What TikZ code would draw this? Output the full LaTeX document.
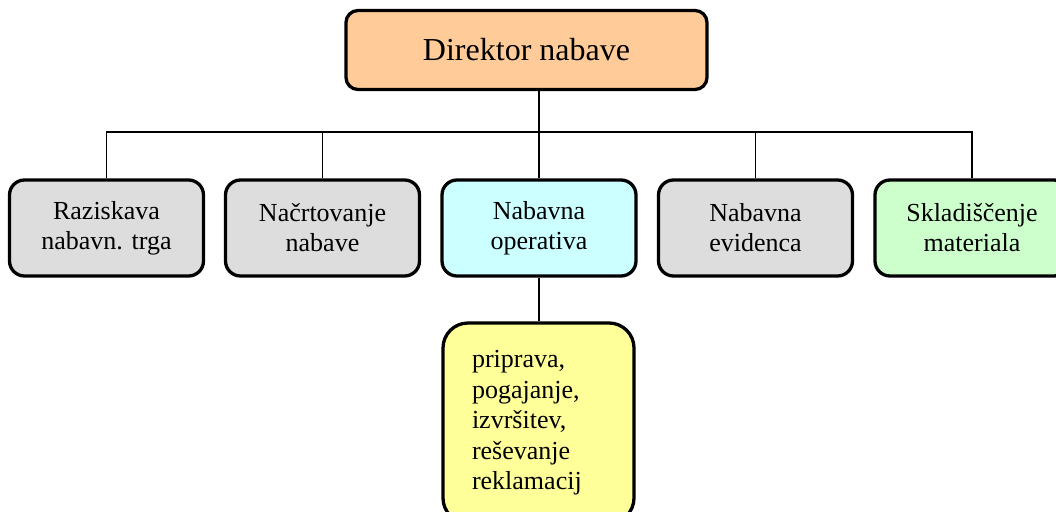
\documentclass[tikz,border=0pt]{standalone}
\usepackage{fontspec}
\setmainfont{Liberation Serif}
\definecolor{peach}{HTML}{FFCC99}
\definecolor{lightgray}{HTML}{DDDDDD}
\definecolor{lightcyan}{HTML}{CCFFFF}
\definecolor{lightgreen}{HTML}{CCFFCC}
\definecolor{lightyellow}{HTML}{FFFF99}
\tikzset{
  unitbox/.style={draw=black, line width=3.3pt, rounded corners=15pt,
    minimum width=194pt, minimum height=96pt, inner sep=0pt, align=center,
    font=\fontsize{26}{30}\selectfont},
  headbox/.style={unitbox, rounded corners=12pt, minimum width=361pt,
    minimum height=79pt, font=\fontsize{32}{36}\selectfont},
  notebox/.style={unitbox, rounded corners=25pt, minimum width=191pt,
    minimum height=200pt, text width=133pt, align=left,
    font=\fontsize{26}{30.5}\selectfont},
  link/.style={draw=black, line width=1.5pt}
}
\begin{document}
\begin{tikzpicture}[x=1pt,y=-1pt]
  \useasboundingbox (0,0) rectangle (1056,511);
  \clip (0,0) rectangle (1056,511);
  \fill[white] (0,0) rectangle (1056,511);

  % head of the department
  \node[headbox, fill=peach] (dir) at (526.5,50) {Direktor nabave};

  % second level units
  \node[unitbox, fill=lightgray]   (n1) at (106.5,228) {Raziskava\\nabavn. trga};
  \node[unitbox, fill=lightgray]   (n2) at (322.5,228) {Načrtovanje\\nabave};
  \node[unitbox, fill=lightcyan]   (n3) at (539,228)   {Nabavna\\operativa};
  \node[unitbox, fill=lightgray]   (n4) at (755.5,228) {Nabavna\\evidenca};
  \node[unitbox, fill=lightgreen]  (n5) at (972,228)   {Skladiščenje\\materiala};

  % tasks of the operative unit
  \node[notebox, fill=lightyellow] (ops) at (538.5,423)
    {priprava,\\pogajanje,\\izvršitev,\\reševanje\\reklamacij};

  % connectors
  \coordinate (bar) at (539,132);
  \draw[link] (dir.south -| n3) -- (n3.north);
  \draw[link] (n1.north) |- (bar) -| (n5.north);
  \draw[link] (n2.north) -- (n2.north |- bar);
  \draw[link] (n4.north) -- (n4.north |- bar);
  \draw[link] (n3.south) -- (ops.north -| n3);
\end{tikzpicture}
\end{document}
